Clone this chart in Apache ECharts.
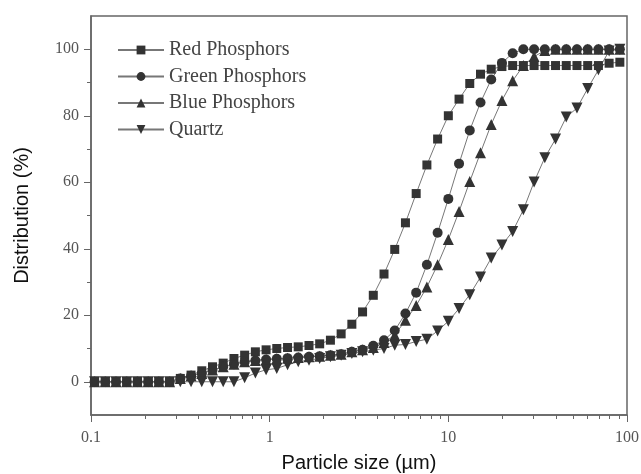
<!DOCTYPE html>
<html>
<head>
<meta charset="utf-8">
<script src="https://cdn.jsdelivr.net/npm/echarts@6/dist/echarts.min.js"></script>
<style>
  html, body { margin: 0; padding: 0; background: #fff; }
  #chart { width: 641px; height: 474px; }
</style>
</head>
<body>
<div id="chart"></div>
<script>
var chart = echarts.init(document.getElementById('chart'));

// size classes (um)
var sizes = [0.1047, 0.1202, 0.138, 0.1585, 0.182, 0.2089, 0.2399, 0.2754, 0.3162, 0.3631,
    0.4169, 0.4786, 0.5495, 0.631, 0.7244, 0.8318, 0.955, 1.096, 1.259, 1.445,
    1.66, 1.905, 2.188, 2.512, 2.884, 3.311, 3.802, 4.365, 5.012, 5.754,
    6.607, 7.586, 8.71, 10, 11.48, 13.18, 15.14, 17.38, 19.95, 22.91,
    26.3, 30.2, 34.67, 39.81, 45.71, 52.48, 60.26, 69.18, 79.43, 91.2];

var redValues = [0, 0, 0, 0, 0, 0, 0, 0, 1.0, 2.0,
    3.3, 4.5, 5.6, 7.0, 8.0, 9.0, 9.6, 10.0, 10.3, 10.5,
    10.9, 11.4, 12.5, 14.4, 17.3, 21.0, 26.0, 32.4, 39.8, 47.8,
    56.6, 65.2, 73.0, 80.0, 85.0, 89.7, 92.5, 94.0, 94.8, 95.1,
    95.1, 95.1, 95.1, 95.1, 95.1, 95.1, 95.1, 95.1, 95.8, 96.1];

var greenValues = [0, 0, 0, 0, 0, 0, 0, 0, 1.0, 1.8,
    2.5, 3.5, 4.5, 5.3, 6.0, 6.4, 6.7, 6.9, 7.1, 7.3,
    7.5, 7.7, 8.0, 8.3, 9.0, 9.6, 10.8, 12.5, 15.4, 20.5,
    26.8, 35.2, 44.8, 55.0, 65.6, 75.6, 84.0, 90.9, 95.9, 98.8,
    100, 100, 100, 100, 100, 100, 100, 100, 100, 100];

var blueValues = [0, 0, 0, 0, 0, 0, 0, 0, 1.0, 1.8,
    2.5, 3.5, 4.5, 5.3, 6.0, 6.4, 6.7, 6.9, 7.1, 7.3,
    7.5, 7.7, 8.0, 8.3, 9.0, 9.6, 10.3, 11.8, 14.0, 18.5,
    22.9, 28.5, 35.2, 42.8, 51.2, 60.2, 68.9, 77.4, 84.6, 90.5,
    95.1, 97.8, 99.6, 100, 100, 100, 100, 100, 100, 100];

var quartzValues = [0, 0, 0, 0, 0, 0, 0, 0, 0, 0,
    0, 0, 0, 0, 1.2, 2.6, 3.6, 4.0, 5.1, 6.0,
    6.5, 7.0, 7.5, 8.0, 8.5, 9.0, 9.5, 10.0, 11.0, 11.2,
    12.1, 12.8, 15.3, 18.2, 22.0, 26.2, 31.5, 37.2, 41.1, 45.2,
    51.7, 60.1, 67.4, 73.0, 79.6, 82.3, 88.2, 93.8, 99.5, 100];

var seriesNames = ['Red Phosphors', 'Green Phosphors', 'Blue Phosphors', 'Quartz'];

var xMajorTicks = [0.1, 1, 10, 100];
var xMinorTicks = [0.2, 0.3, 0.4, 0.5, 0.6, 0.7, 0.8, 0.9, 2, 3, 4, 5, 6, 7, 8, 9,
    20, 30, 40, 50, 60, 70, 80, 90];
var yMajorTicks = [0, 20, 40, 60, 80, 100];
var yMinorTicks = [10, 30, 50, 70, 90];

function pairs(vals) {
    return sizes.map(function (s, i) { return [s, vals[i]]; });
}

var axisColor = '#666';
var serif = '"Liberation Serif", "Times New Roman", serif';
var sans = '"Liberation Sans", Arial, sans-serif';

function makeSeries(name, vals, symbol, size, rotate) {
    return {
        name: name,
        type: 'line',
        data: pairs(vals),
        symbol: symbol,
        symbolSize: size,
        symbolRotate: rotate || 0,
        showAllSymbol: true,
        xAxisIndex: 0,
        yAxisIndex: 0,
        itemStyle: { color: '#333' },
        lineStyle: { color: '#777', width: 1 },
        emphasis: { disabled: true },
        animation: false
    };
}

var option = {
    animation: false,
    grid: {
        left: 91, right: 14, top: 16, bottom: 59,
        show: true, borderColor: axisColor, borderWidth: 1.5,
        outerBoundsMode: 'none'
    },
    legend: {
        orient: 'vertical',
        left: 112,
        top: 35,
        itemWidth: 46,
        itemHeight: 11,
        itemGap: 6.5,
        data: seriesNames,
        textStyle: { fontFamily: serif, fontSize: 20, lineHeight: 20, color: '#444' }
    },
    xAxis: [{
        type: 'log',
        logBase: 10,
        min: 0.1,
        max: 100,
        name: 'Particle size (\u00b5m)',
        nameLocation: 'middle',
        nameGap: 38,
        nameTextStyle: { fontFamily: sans, fontSize: 20, color: '#111' },
        axisLine: { onZero: false, lineStyle: { color: axisColor, width: 1.5 } },
        axisTick: { inside: false, length: 7, customValues: xMajorTicks, lineStyle: { color: axisColor } },
        axisLabel: {
            margin: 15,
            customValues: xMajorTicks,
            formatter: function (v) { return String(+v.toPrecision(3)); },
            fontFamily: serif, fontSize: 16, color: '#555'
        },
        splitLine: { show: false },
        minorTick: { show: false }
    }, {
        type: 'value',
        min: -1,
        max: 2,
        position: 'bottom',
        axisLine: { show: false, onZero: false },
        axisTick: {
            length: 4,
            customValues: xMinorTicks.map(function (v) { return Math.log10(v); }),
            lineStyle: { color: axisColor }
        },
        axisLabel: { show: false },
        splitLine: { show: false }
    }],
    yAxis: [{
        type: 'value',
        min: -10,
        max: 110,
        name: 'Distribution (%)',
        nameLocation: 'middle',
        nameGap: 59,
        nameTextStyle: { fontFamily: sans, fontSize: 20, color: '#111' },
        axisLine: { show: true, onZero: false, lineStyle: { color: axisColor, width: 1.5 } },
        axisTick: { show: true, length: 7, customValues: yMajorTicks, lineStyle: { color: axisColor } },
        axisLabel: {
            margin: 12,
            customValues: yMajorTicks,
            fontFamily: serif, fontSize: 16, color: '#555'
        },
        splitLine: { show: false }
    }, {
        type: 'value',
        min: -10,
        max: 110,
        position: 'left',
        axisLine: { show: false, onZero: false },
        axisTick: { show: true, length: 4, customValues: yMinorTicks, lineStyle: { color: axisColor } },
        axisLabel: { show: false },
        splitLine: { show: false }
    }],
    series: [
        makeSeries(seriesNames[0], redValues, 'rect', 9),
        makeSeries(seriesNames[1], greenValues, 'circle', 10),
        makeSeries(seriesNames[2], blueValues, 'triangle', 11),
        makeSeries(seriesNames[3], quartzValues, 'triangle', 11, 180)
    ]
};

chart.setOption(option);
</script>
</body>
</html>
